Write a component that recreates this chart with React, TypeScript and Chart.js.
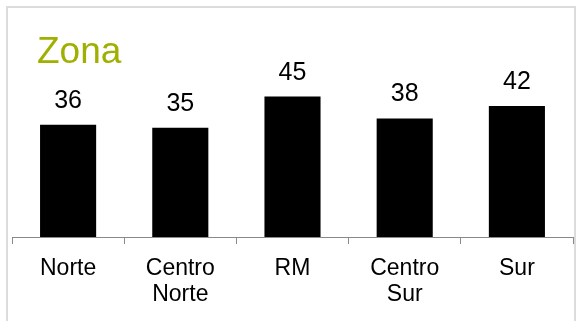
import React, { useEffect, useRef } from "react";
import { Chart, registerables } from "chart.js";

Chart.register(...registerables);

const categories: (string | string[])[] = ["Norte", ["Centro", "Norte"], "RM", ["Centro", "Sur"], "Sur"];
const values: number[] = [36, 35, 45, 38, 42];
const titleText = "Zona";

const FONT = "'Liberation Sans', Arial, sans-serif";

const valueLabels = {
  id: "valueLabels",
  afterDatasetsDraw(chart: any) {
    const ctx = chart.ctx;
    const meta = chart.getDatasetMeta(0);
    ctx.save();
    ctx.font = `25px ${FONT}`;
    ctx.fillStyle = "#000000";
    ctx.textAlign = "center";
    ctx.textBaseline = "alphabetic";
    meta.data.forEach((bar: any, i: number) => {
      ctx.fillText(String(values[i]), bar.x, bar.y - 17);
    });
    ctx.restore();
  },
};

export default function App() {
  const ref = useRef<HTMLCanvasElement | null>(null);
  useEffect(() => {
    if (!ref.current) return;
    const chart = new Chart(ref.current, {
      type: "bar",
      data: {
        labels: categories,
        datasets: [
          {
            data: values,
            backgroundColor: "#000000",
            borderWidth: 0,
            categoryPercentage: 1,
            barPercentage: 0.5,
          },
        ],
      },
      options: {
        animation: false,
        responsive: false,
        maintainAspectRatio: false,
        layout: { padding: { left: 12, right: 4, top: 81, bottom: 2 } },
        plugins: { legend: { display: false }, title: { display: false }, tooltip: { enabled: false } },
        scales: {
          x: {
            grid: {
              display: true,
              drawOnChartArea: false,
              drawTicks: true,
              tickLength: 7,
              color: "#898989",
              offset: true,
            },
            border: { display: true, color: "#898989", width: 1 },
            ticks: {
              color: "#000000",
              font: { family: FONT, size: 23, lineHeight: 1.15 },
              padding: 11,
              maxRotation: 0,
              autoSkip: false,
            },
          },
          y: { display: false, min: 0, max: 50 },
        },
      },
      plugins: [valueLabels],
    });
    return () => chart.destroy();
  }, []);
  return (
    <div style={{ position: "absolute", left: 0, top: 0, width: 577, height: 321, overflow: "hidden", background: "#ffffff" }}>
      <div
        style={{
          position: "absolute",
          left: 6,
          top: 6,
          width: 570,
          height: 340,
          boxSizing: "border-box",
          border: "2px solid #dcdcdc",
        }}
      />
      <canvas ref={ref} width={577} height={321} style={{ position: "absolute", left: 0, top: 0, width: 577, height: 321 }} />
      <div
        style={{
          position: "absolute",
          left: 37,
          top: 32,
          font: `37px ${FONT}`,
          lineHeight: "37px",
          color: "#9fb000",
          whiteSpace: "nowrap",
        }}
      >
        {titleText}
      </div>
    </div>
  );
}
